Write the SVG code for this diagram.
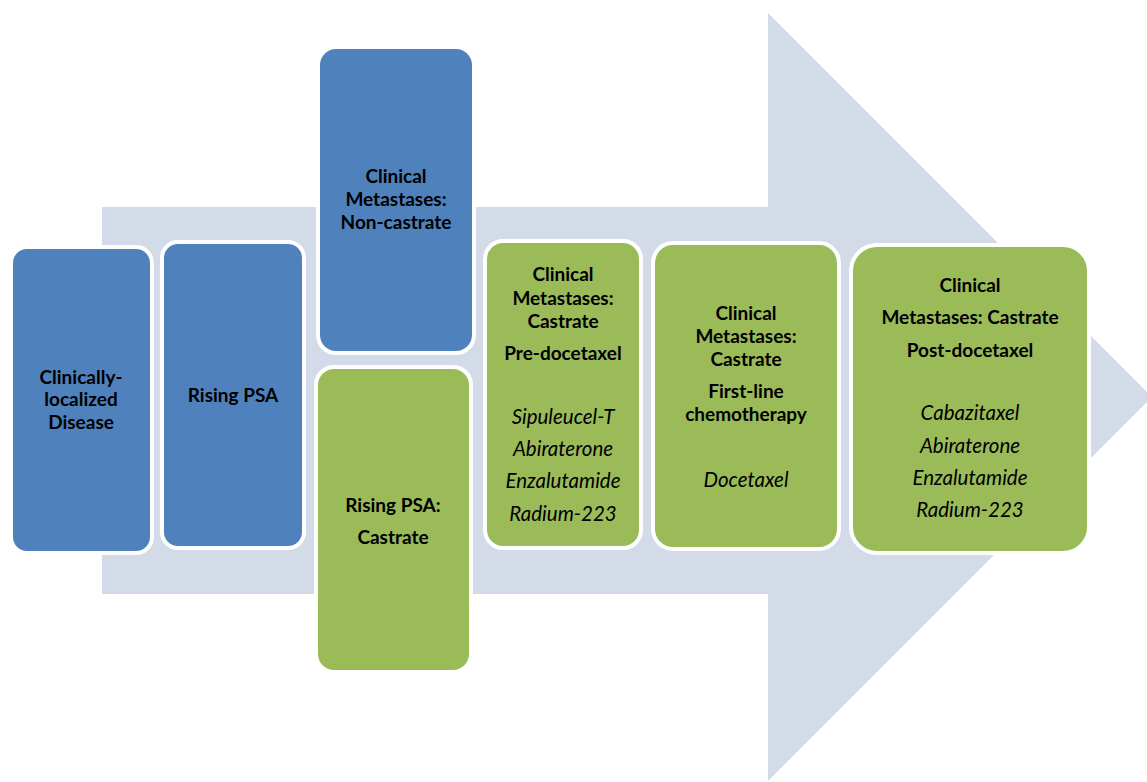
<svg xmlns="http://www.w3.org/2000/svg" width="1147" height="782" viewBox="0 0 1147 782">
<style>
.box{stroke:#ffffff;stroke-width:4}
.blue{fill:#4F81BD}
.green{fill:#9BBB59}
text{font-family:Lato,"Liberation Sans",sans-serif;font-size:19px;fill:#000;text-anchor:middle}
.b{font-weight:bold}
.i{font-style:italic;font-size:20.5px}
</style>
<rect width="1147" height="782" fill="#ffffff"/>
<g id="arrow">
<polygon points="102,207 768,207 768,13 1152,397 768,781 768,594 102,594" fill="#D3DAE8"/>
</g>
<g id="connectors"></g>
<g id="n1">
<rect class="box blue" x="11" y="247" width="141" height="306" rx="16"/>
<text class="b" x="81" y="384">Clinically-</text>
<text class="b" x="81" y="406">localized</text>
<text class="b" x="81" y="429">Disease</text>
</g>
<g id="n2">
<rect class="box blue" x="162" y="242" width="142" height="306" rx="16"/>
<text class="b" x="233" y="402">Rising PSA</text>
</g>
<g id="n3">
<rect class="box blue" x="318" y="47" width="156" height="306" rx="18"/>
<text class="b" x="396" y="183">Clinical</text>
<text class="b" x="396" y="206">Metastases:</text>
<text class="b" x="396" y="229">Non-castrate</text>
</g>
<g id="n4">
<rect class="box green" x="316" y="367" width="155" height="305" rx="18"/>
<text class="b" x="393" y="512">Rising PSA:</text>
<text class="b" x="393" y="544">Castrate</text>
</g>
<g id="n5">
<rect class="box green" x="485" y="241" width="156" height="307" rx="18"/>
<text class="b" x="563" y="281">Clinical</text>
<text class="b" x="563" y="305">Metastases:</text>
<text class="b" x="563" y="328">Castrate</text>
<text class="b" x="563" y="360">Pre-docetaxel</text>
<text class="i" x="563" y="424">Sipuleucel-T</text>
<text class="i" x="563" y="456">Abiraterone</text>
<text class="i" x="563" y="488">Enzalutamide</text>
<text class="i" x="563" y="521">Radium-223</text>
</g>
<g id="n6">
<rect class="box green" x="653" y="243" width="186" height="306" rx="20"/>
<text class="b" x="746" y="320">Clinical</text>
<text class="b" x="746" y="343">Metastases:</text>
<text class="b" x="746" y="366">Castrate</text>
<text class="b" x="746" y="398">First-line</text>
<text class="b" x="746" y="421">chemotherapy</text>
<text class="i" x="746" y="487">Docetaxel</text>
</g>
<g id="n7">
<rect class="box green" x="851" y="245" width="238" height="308" rx="26"/>
<text class="b" x="970" y="292">Clinical</text>
<text class="b" x="970" y="324">Metastases: Castrate</text>
<text class="b" x="970" y="357">Post-docetaxel</text>
<text class="i" x="970" y="420">Cabazitaxel</text>
<text class="i" x="970" y="453">Abiraterone</text>
<text class="i" x="970" y="485">Enzalutamide</text>
<text class="i" x="970" y="517">Radium-223</text>
</g>
</svg>
